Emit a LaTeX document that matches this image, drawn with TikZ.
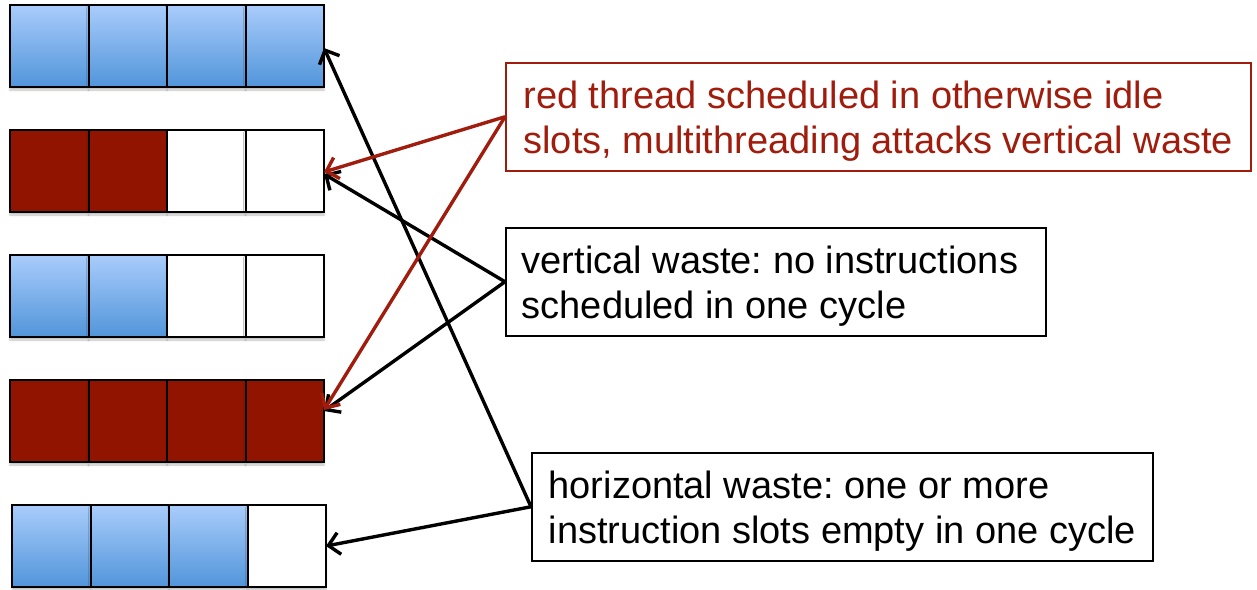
\documentclass[tikz,border=0pt]{standalone}
\usepackage{fontspec}
\setmainfont{Liberation Sans}
\frenchspacing
\usetikzlibrary{arrows.meta,shadows.blur}
\definecolor{slotred}{HTML}{901400}
\definecolor{notered}{HTML}{A01C0C}
\definecolor{bluetop}{HTML}{A9CCFB}
\definecolor{bluebot}{HTML}{5195DA}
\tikzset{
  slot/.style={draw=black, line width=2pt, minimum width=78.5pt, minimum height=82pt,
    inner sep=0pt, outer sep=0pt, anchor=north west,
    blur shadow={shadow xshift=0pt, shadow yshift=-3pt, shadow opacity=25, shadow blur radius=2pt}},
  busy/.style={slot, top color=bluetop, bottom color=bluebot},
  other/.style={slot, fill=slotred},
  idle/.style={slot, fill=white},
  note/.style={draw, line width=1.5pt, fill=white, minimum height=108pt, minimum width=#1,
    align=left, inner xsep=6pt, text depth=0pt, font=\fontsize{38}{45}\selectfont, anchor=north west},
  pointer/.style={line width=3.4pt, -{Straight Barb[length=11pt,width=22pt,line width=3.4pt]}},
}
\begin{document}
\begin{tikzpicture}[x=1pt,y=-1pt]
\useasboundingbox (0,0) rectangle (1257,589);

% row 1: all four slots busy
\node[busy] (r1c1) at (10,5) {};
\node[busy] (r1c2) at (88.5,5) {};
\node[busy] (r1c3) at (167,5) {};
\node[busy] (r1c4) at (245.5,5) {};
% row 2: two slots from the red thread
\node[other] (r2c1) at (10,130) {};
\node[other] (r2c2) at (88.5,130) {};
\node[idle]  (r2c3) at (167,130) {};
\node[idle]  (r2c4) at (245.5,130) {};
% row 3
\node[busy] (r3c1) at (10,255) {};
\node[busy] (r3c2) at (88.5,255) {};
\node[idle] (r3c3) at (167,255) {};
\node[idle] (r3c4) at (245.5,255) {};
% row 4: whole cycle used by the red thread
\node[other] (r4c1) at (10,380) {};
\node[other] (r4c2) at (88.5,380) {};
\node[other] (r4c3) at (167,380) {};
\node[other] (r4c4) at (245.5,380) {};
% row 5
\node[busy] (r5c1) at (12,505) {};
\node[busy] (r5c2) at (90.5,505) {};
\node[busy] (r5c3) at (169,505) {};
\node[idle] (r5c4) at (247.5,505) {};

% explanatory notes
\node[note=745pt, draw=notered, text=notered] (idle) at (505,62)
  {red thread scheduled in otherwise idle\\slots, multithreading attacks vertical waste};
\node[note=540pt] (vert) at (505,227)
  {\makebox[508pt][l]{vertical waste: no instructions}\\scheduled in one cycle};
\node[note=621pt] (horiz) at (531,452)
  {horizontal waste: one or more\\instruction slots empty in one cycle};

% pointers
\draw[pointer] (horiz.west) -- ([yshift=-2pt]r1c4.east);
\draw[pointer] (horiz.west) -- (r5c4.east);
\draw[pointer] (vert.west) -- ([yshift=-3pt]r2c4.east);
\draw[pointer] (vert.west) -- ([yshift=10pt]r4c4.east);
\draw[pointer, notered] (idle.west) -- ([yshift=-1pt]r2c4.east);
\draw[pointer, notered] (idle.west) -- ([yshift=11pt]r4c4.east);
\end{tikzpicture}
\end{document}
